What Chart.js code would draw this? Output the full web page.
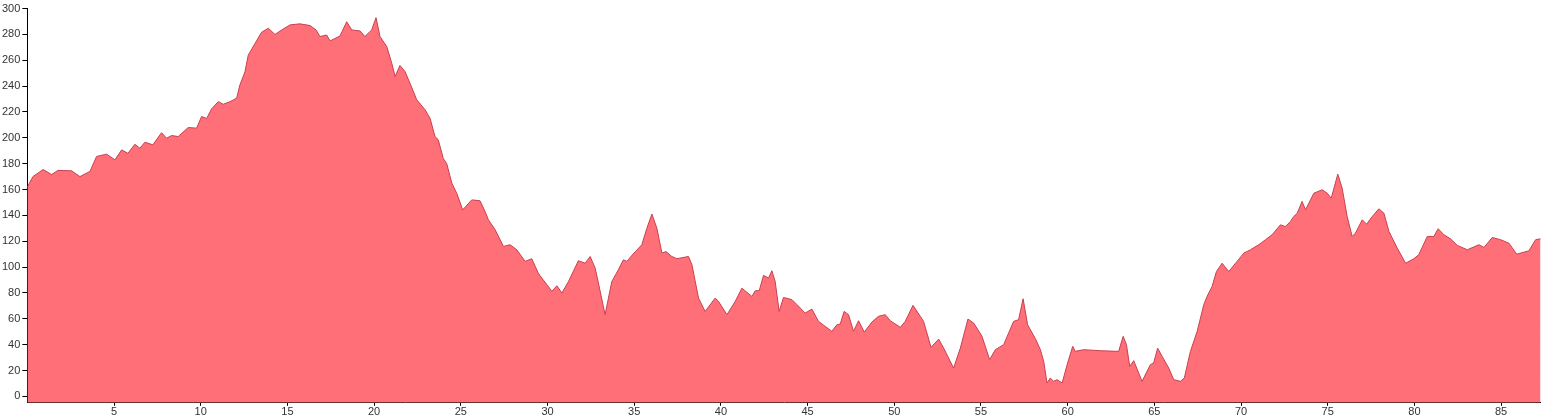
<!DOCTYPE html>
<html>
<head>
<meta charset="utf-8">
<script src="https://cdn.jsdelivr.net/npm/chart.js@4"></script>
<style>
  html, body { margin: 0; padding: 0; background: #fff; }
  #wrap { width: 1541px; height: 419px; position: relative; }
</style>
</head>
<body>
<div id="wrap"><canvas id="profile-chart"></canvas></div>
<script>
// distance along the route (km) and elevation (m)
var distanceKm = [
  0, 0.32, 0.91, 1.40, 1.76, 2.55, 3.03, 3.61, 3.99, 4.57, 5.05, 5.44, 5.80, 6.20, 6.49, 6.78, 7.24,
  7.74, 8.03, 8.32, 8.70, 9.28, 9.76, 10.05, 10.34, 10.63, 11.01, 11.30, 11.69, 12.07, 12.26, 12.55,
  12.74, 13.13, 13.51, 13.90, 14.28, 14.67, 15.15, 15.72, 16.30, 16.65, 16.88, 17.26, 17.46, 18.03,
  18.42, 18.71, 19.19, 19.47, 19.86, 20.11, 20.34, 20.73, 21.02, 21.21, 21.49, 21.78, 22.07, 22.46,
  22.94, 23.23, 23.51, 23.70, 23.99, 24.19, 24.48, 24.77, 25.11, 25.63, 26.11, 26.40, 26.59, 26.98,
  27.46, 27.84, 28.23, 28.71, 29.09, 29.47, 29.67, 30.05, 30.25, 30.54, 30.83, 31.21, 31.78, 32.17,
  32.46, 32.75, 33.04, 33.32, 33.71, 34.09, 34.38, 34.58, 34.86, 35.44, 35.73, 36.02, 36.31, 36.60,
  36.83, 37.17, 37.46, 38.13, 38.33, 38.71, 39.09, 39.67, 39.86, 40.35, 40.83, 41.21, 41.79, 41.98,
  42.21, 42.46, 42.75, 42.94, 43.13, 43.36, 43.61, 44.10, 44.39, 44.86, 45.25, 45.63, 46.02, 46.40,
  46.69, 46.88, 47.11, 47.36, 47.65, 47.94, 48.27, 48.71, 49.09, 49.48, 49.77, 50.35, 50.63, 51.08,
  51.50, 51.69, 52.12, 52.56, 52.85, 53.42, 53.81, 54.25, 54.58, 55.06, 55.50, 55.83, 56.31, 56.88,
  57.17, 57.43, 57.69, 58.14, 58.43, 58.62, 58.81, 59.00, 59.19, 59.39, 59.68, 59.97, 60.29, 60.44,
  60.92, 61.89, 62.94, 63.20, 63.39, 63.58, 63.81, 64.29, 64.77, 64.96, 65.19, 65.45, 65.83, 66.12,
  66.50, 66.73, 67.08, 67.47, 67.85, 68.04, 68.33, 68.58, 68.91, 69.29, 69.77, 70.16, 70.54, 71.02,
  71.41, 71.79, 72.27, 72.56, 72.85, 73.04, 73.24, 73.52, 73.72, 74.20, 74.68, 74.97, 75.20, 75.58,
  75.83, 76.12, 76.41, 76.60, 76.99, 77.24, 77.57, 77.95, 78.24, 78.53, 79.01, 79.49, 79.97, 80.25,
  80.74, 81.12, 81.37, 81.70, 82.08, 82.47, 83.05, 83.72, 84.01, 84.49, 84.97, 85.45, 85.90, 86.60,
  86.99, 87.27
];
var elevation = [
  162, 170, 175.5, 171.6, 174.8, 174.5, 170, 174, 185.6, 187.4, 183, 190.7, 188, 195, 192, 196.6, 194.6,
  204, 199.7, 201.8, 201, 208, 207.5, 216.5, 215, 222.5, 228, 226, 228, 230.7, 241, 251,
  264, 273, 281.7, 284.8, 280, 283.5, 287.4, 288.2, 286.9, 283.5, 278.4, 279.6, 275, 278.8,
  289.8, 283.5, 282.7, 278.4, 283.5, 293, 278.4, 270.6, 257.7, 247.4, 256, 251.3, 242.2, 229.4,
  221.7, 215, 201, 198.5, 184, 180, 165, 157, 144.3, 152, 151.3, 143, 136.6, 128.9,
  116, 117.3, 113.4, 104.4, 106.5, 95.3, 91.5, 85, 81.2, 85.6, 79.9, 88.9, 104.9, 103,
  108.2, 99.2, 81.2, 63.2, 88.9, 98, 105.7, 104.4, 109, 117.3, 130, 141, 130, 110.8,
  112, 108.2, 106.5, 108.2, 101.8, 76, 65.7, 76, 73.5, 63.2, 73.5, 83.7, 77.3, 81.7,
  81.7, 93.6, 91.5, 97.2, 88.9, 65.7, 76.5, 74.8, 70.9, 64.4, 67.5, 58, 54.1, 50.3,
  55.4, 55.9, 65.7, 63.2, 50.3, 58.5, 49.7, 57.5, 61.9, 63.2, 58.5, 53.4, 58, 70.4,
  61.9, 58, 37.9, 44.3, 37.3, 21.9, 37.3, 59.8, 56.7, 46.4, 28.4, 36.1, 40, 58,
  59.3, 75.5, 55.4, 44.6, 36, 27, 10.3, 14.2, 11.6, 12.9, 10.3, 24.5, 38.7, 34.8,
  36.1, 35.3, 34.8, 46.4, 40, 23.2, 27.6, 11.6, 24.5, 25.8, 37.3, 30.9, 21.9, 12.9,
  11.6, 14.2, 34.8, 50.3, 70.9, 77.3, 85, 96.6, 103, 96.6, 104.4, 110.8, 113.4, 117.3,
  121.2, 125, 132.7, 131.4, 135.3, 139.2, 141.7, 150.8, 144.3, 157.2, 159.8, 157.2, 153.3, 171.9,
  161.1, 139.2, 123.7, 126.3, 136.6, 133.2, 139.2, 145.1, 141.7, 127.6, 114.7, 103, 106.5, 109.6,
  123.7, 123.7, 129.7, 125, 121.9, 116.8, 113.4, 117.3, 115.2, 122.9, 121.2, 118.5, 110, 112.6,
  121.2, 121.9
];
var xTicks = [5, 10, 15, 20, 25, 30, 35, 40, 45, 50, 55, 60, 65, 70, 75, 80, 85];
var yTicks = [0, 20, 40, 60, 80, 100, 120, 140, 160, 180, 200, 220, 240, 260, 280, 300];
var xMax = 87.3;
var yMin = -5;
var yMax = 300;

var points = distanceKm.map(function (d, i) {
  return { x: d, y: elevation[i] };
});

var tickFont = { family: "Arial, 'Liberation Sans', sans-serif", size: 11 };

var canvas = document.getElementById("profile-chart");

var chart = new Chart(canvas, {
  type: "line",
  data: {
    datasets: [
      {
        data: points,
        fill: "start",
        backgroundColor: "#ff6f78",
        borderColor: "#c8404f",
        borderWidth: 1,
        pointRadius: 0,
        tension: 0,
      },
    ],
  },
  options: {
    responsive: true,
    maintainAspectRatio: false,
    animation: false,
    plugins: {
      legend: { display: false },
      tooltip: { enabled: false },
    },
    layout: { padding: { top: 2, right: 0, left: 0, bottom: 0 } },
    scales: {
      x: {
        type: "linear",
        min: 0,
        max: xMax,
        border: { display: true, color: "#000", width: 1 },
        grid: { drawOnChartArea: false, drawTicks: true, tickLength: 3, color: "#000" },
        ticks: { color: "#333", padding: 0, maxRotation: 0, autoSkip: false, font: tickFont },
        afterBuildTicks: function (scale) {
          scale.ticks = xTicks.map(function (v) { return { value: v }; });
        },
      },
      y: {
        min: yMin,
        max: yMax,
        border: { display: true, color: "#000", width: 1 },
        grid: { drawOnChartArea: false, drawTicks: true, tickLength: 5, color: "#000" },
        ticks: { color: "#333", padding: 2, autoSkip: false, font: tickFont },
        afterBuildTicks: function (scale) {
          scale.ticks = yTicks.map(function (v) { return { value: v }; });
        },
      },
    },
  },
});
</script>
</body>
</html>
